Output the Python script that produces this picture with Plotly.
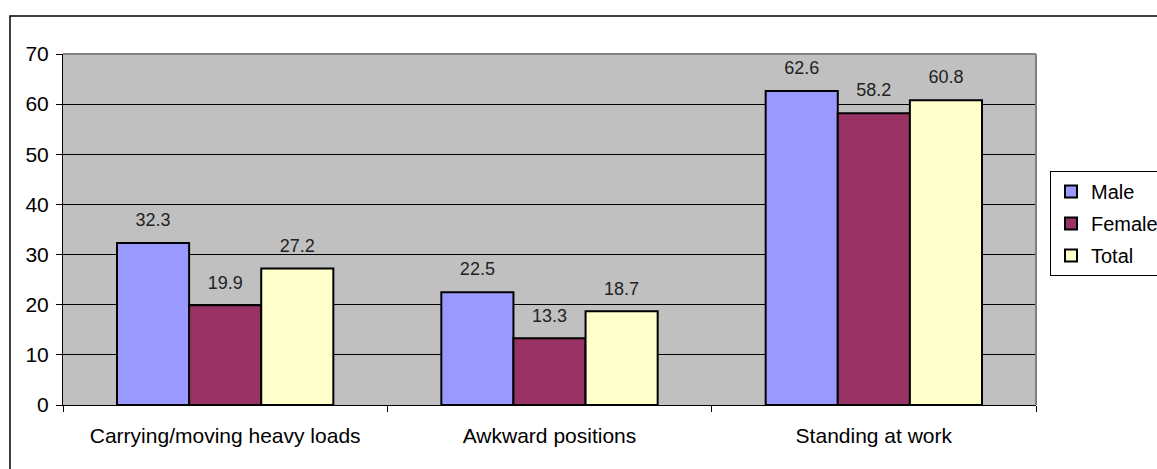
import plotly.graph_objects as go

categories = ["Carrying/moving heavy loads", "Awkward positions", "Standing at work"]
male = [32.3, 22.5, 62.6]
female = [19.9, 13.3, 58.2]
total = [27.2, 18.7, 60.8]
series_names = ["Male", "Female", "Total"]
series_colors = ["#9999FF", "#993366", "#FFFFCC"]
y_ticks = [0, 10, 20, 30, 40, 50, 60, 70]

fig = go.Figure()
for name, vals, col in zip(series_names, [male, female, total], series_colors):
    fig.add_trace(go.Bar(
        x=categories, y=vals, name=name, legendgroup=name,
        marker=dict(color=col, line=dict(color="black", width=2)),
        text=[f"{v:.1f}" for v in vals],
        texttemplate="<span style='font-size:18px'>%{text}</span><br> ",
        textposition="outside", cliponaxis=False,
        textfont=dict(family="Liberation Sans Narrow, Liberation Sans", size=9, color="#222222"),
    ))

fig.update_layout(
    width=1157, height=469,
    margin=dict(l=63, r=121, t=54, b=64, autoexpand=False),
    paper_bgcolor="white", plot_bgcolor="#C0C0C0",
    barmode="group", bargap=0.333, bargroupgap=0,
    font=dict(family="Liberation Sans, Arial", size=21, color="black"),
    legend=dict(
        x=(1050 - 63) / 973, y=0.667, xanchor="left", yanchor="top",
        bordercolor="black", borderwidth=1, bgcolor="white",
        font=dict(size=20), traceorder="grouped", tracegroupgap=3,
        itemwidth=30,
    ),
    xaxis=dict(
        showline=True, linecolor="black", linewidth=1,
        ticks="outside", tickson="boundaries", ticklen=6, tickcolor="black",
        showgrid=False, tickfont=dict(size=21), ticklabelstandoff=12,
    ),
    yaxis=dict(
        range=[0, 70], tickvals=y_ticks, showline=True, linecolor="black", linewidth=1,
        ticks="outside", ticklen=6, tickcolor="black",
        showgrid=True, gridcolor="black", gridwidth=1, zeroline=False,
        tickfont=dict(size=21), ticklabelstandoff=3,
    ),
    shapes=[
        dict(type="line", xref="paper", yref="paper", x0=0, x1=1, y0=1, y1=1,
             line=dict(color="#808080", width=2)),
        dict(type="line", xref="paper", yref="paper", x0=1, x1=1, y0=0, y1=1,
             line=dict(color="#808080", width=2)),
        dict(type="rect", xref="paper", yref="paper",
             x0=(10 - 63) / 973, x1=(1175 - 63) / 973,
             y0=(405 - 490) / 351, y1=(405 - 16) / 351,
             line=dict(color="black", width=1.5)),
    ],
)

fig.write_html("out.html", config={"displayModeBar": False})
with open("out.html", "r", encoding="utf-8") as f:
    html = f.read()
html = html.replace("<body>", "<body style=\"margin:0;overflow:hidden\">", 1)
with open("out.html", "w", encoding="utf-8") as f:
    f.write(html)
